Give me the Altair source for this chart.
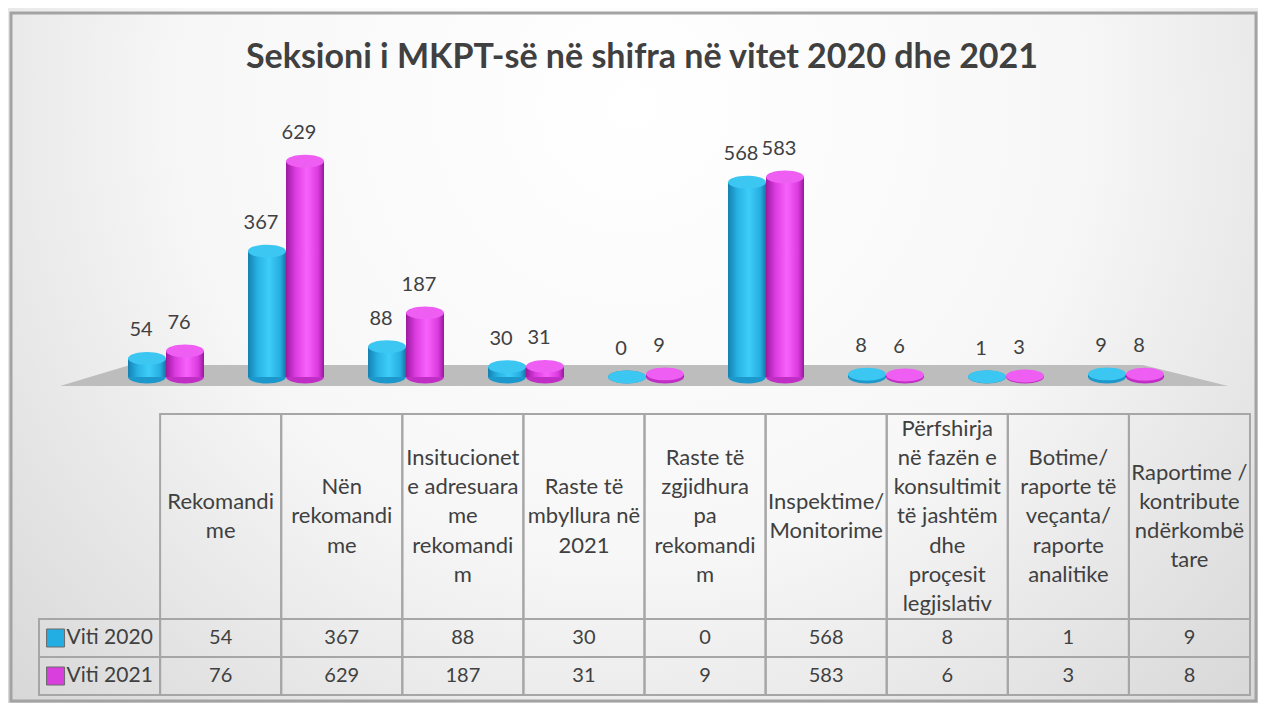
import altair as alt
import pandas as pd

# ---------------- data ----------------
title_text = "Seksioni i MKPT-së në shifra në vitet 2020 dhe 2021"
categories = [
    "Rekomandime",
    "Nën rekomandime",
    "Insitucionet e adresuara me rekomandim",
    "Raste të mbyllura në 2021",
    "Raste të zgjidhura pa rekomandim",
    "Inspektime/ Monitorime",
    "Përfshirja në fazën e konsultimit të jashtëm dhe proçesit legjislativ",
    "Botime/ raporte të veçanta/ raporte analitike",
    "Raportime / kontribute ndërkombëtare",
]
header_lines = [
    ["Rekomandi", "me"],
    ["Nën", "rekomandi", "me"],
    ["Insitucionet", "e adresuara", "me", "rekomandi", "m"],
    ["Raste të", "mbyllura në", "2021"],
    ["Raste të", "zgjidhura", "pa", "rekomandi", "m"],
    ["Inspektime/", "Monitorime"],
    ["Përfshirja", "në fazën e", "konsultimit", "të jashtëm", "dhe", "proçesit", "legjislativ"],
    ["Botime/", "raporte të", "veçanta/", "raporte", "analitike"],
    ["Raportime /", "kontribute", "ndërkombë", "tare"],
]
series = ["Viti 2020", "Viti 2021"]
values_2020 = [54, 367, 88, 30, 0, 568, 8, 1, 9]
values_2021 = [76, 629, 187, 31, 9, 583, 6, 3, 8]

# ---------------- tables built from the arrays ----------------
rows = []
for s, vals in zip(series, [values_2020, values_2021]):
    for c, v in zip(categories, vals):
        rows.append({"category": c, "series": s, "value": v})
df = pd.DataFrame(rows)

df_hdr = pd.DataFrame({"category": categories,
                       "label": ["\n".join(l) for l in header_lines],
                       "n": [len(l) for l in header_lines]})
ROWKEY = "_row"
df_rowhdr = pd.DataFrame({"category": [ROWKEY] * len(series), "series": series})
df_cells = pd.concat([df[["category", "series"]], df_rowhdr], ignore_index=True)
df_title = pd.DataFrame({"t": [title_text]})
one = pd.DataFrame({"k": [0]})

# ---------------- layout / style ----------------
W, H = 1250, 695
FONT = "Lato"
TXT = "#404040"
GRID = "#a6a6a6"

blue_grad = {"gradient": "linear", "x1": 0, "x2": 1, "y1": 0, "y2": 0,
             "stops": [{"offset": 0, "color": "#1580b0"},
                       {"offset": 0.25, "color": "#27b2e4"},
                       {"offset": 0.55, "color": "#3ecdf8"},
                       {"offset": 0.85, "color": "#26ade0"},
                       {"offset": 1, "color": "#1474a2"}]}
pink_grad = {"gradient": "linear", "x1": 0, "x2": 1, "y1": 0, "y2": 0,
             "stops": [{"offset": 0, "color": "#9c1aa0"},
                       {"offset": 0.25, "color": "#dc3ce0"},
                       {"offset": 0.55, "color": "#f862fb"},
                       {"offset": 0.85, "color": "#da3ade"},
                       {"offset": 1, "color": "#951a99"}]}
styles = {
    "Viti 2020": (blue_grad, "#3cc6f2", "#1c98cc", -19),
    "Viti 2021": (pink_grad, "#ef5ef2", "#c12ec5", 19),
}
bg_grad = {"gradient": "radial", "x1": 0.5, "y1": 0.3, "r1": 0.0,
           "x2": 0.5, "y2": 0.3, "r2": 0.8,
           "stops": [{"offset": 0, "color": "#ffffff"},
                     {"offset": 0.45, "color": "#f7f7f7"},
                     {"offset": 1, "color": "#cdcdcd"}]}

ELLIPSE = "M -1 0 A 1 0.34 0 1 0 1 0 A 1 0.34 0 1 0 -1 0 Z"
BAR_W = 38

x_bar = alt.Scale(domain=categories, range=[98, 1178], paddingInner=0.37, paddingOuter=0.185)
y_bar = alt.Scale(domain=[0, 700], range=[369, 369 - 700 * 0.343])

tx = alt.Scale(domain=[ROWKEY] + categories, range=[31, 1242], paddingInner=0, paddingOuter=0)
ty = alt.Scale(domain=series, range=[611, 687], paddingInner=0, paddingOuter=0)

# ---------------- decoration ----------------
background = alt.Chart(one).mark_rect(fill=bg_grad, strokeWidth=0).encode(
    x=alt.value(0), x2=alt.value(W), y=alt.value(0), y2=alt.value(H))
frame = alt.Chart(one).mark_rect(fill="transparent", stroke="#a3a3a3", strokeWidth=3).encode(
    x=alt.value(3), x2=alt.value(W - 2), y=alt.value(5), y2=alt.value(H - 2))

floor_df = pd.DataFrame({"fx": [52, 122, 1135, 1220],
                         "fy": [378, 357, 357, 378],
                         "fy2": [378, 378, 378, 378]})
floor = alt.Chart(floor_df).mark_area(color="#bdbdbd").encode(
    x=alt.X("fx:Q", scale=None, axis=None),
    y=alt.Y("fy:Q", scale=None, axis=None),
    y2="fy2:Q")

title = alt.Chart(df_title).mark_text(
    font=FONT, fontSize=34, fontWeight="bold", color=TXT, baseline="alphabetic", align="center"
).encode(text="t:N", x=alt.value(634), y=alt.value(60))

# ---------------- bars ----------------
bar_layers = []
X = alt.X("category:N", scale=x_bar, axis=None)
for s in series:
    grad, cap, edge, off = styles[s]
    base = alt.Chart(df).transform_filter(alt.datum.series == s).transform_calculate(zero="0")
    bottom = base.mark_point(shape=ELLIPSE, filled=True, size=BAR_W * BAR_W, color=edge,
                             opacity=1, xOffset=off).encode(
        x=X, y=alt.Y("zero:Q", scale=y_bar, axis=None))
    body = base.mark_bar(color=grad, width=BAR_W, xOffset=off).encode(
        x=X, y=alt.Y("value:Q", scale=y_bar, axis=None), y2="zero:Q")
    top = base.mark_point(shape=ELLIPSE, filled=True, size=BAR_W * BAR_W, color=cap,
                          opacity=1, xOffset=off).encode(
        x=X, y=alt.Y("value:Q", scale=y_bar, axis=None))
    label = base.mark_text(font=FONT, fontSize=20, color=TXT, xOffset=off - 6, dy=-22,
                           baseline="alphabetic").encode(
        x=X, y=alt.Y("value:Q", scale=y_bar, axis=None), text="value:Q")
    bar_layers += [bottom, body, top, label]

# ---------------- data table ----------------
TX = alt.X("category:N", scale=tx, axis=None)
TY = alt.Y("series:N", scale=ty, axis=None)

hdr_cells = alt.Chart(df_hdr).mark_rect(fill="transparent", stroke=GRID, strokeWidth=2).encode(
    x=TX, y=alt.value(406), y2=alt.value(611))
hdr_text = alt.Chart(df_hdr).transform_calculate(
    ty="508.5 - (datum.n - 1) * 14.65"
).mark_text(
    font=FONT, fontSize=22, color=TXT, lineBreak="\n", lineHeight=29.3, baseline="middle"
).encode(x=TX, y=alt.Y("ty:Q", scale=None, axis=None), text="label:N")

cells = alt.Chart(df_cells).mark_rect(fill="transparent", stroke=GRID, strokeWidth=2).encode(
    x=TX, y=TY)
val_text = alt.Chart(df).mark_text(font=FONT, fontSize=20, color=TXT, baseline="middle").encode(
    x=TX, y=TY, text="value:Q")
row_text = alt.Chart(df_rowhdr).mark_text(
    font=FONT, fontSize=21, color=TXT, baseline="middle", align="left", dx=-33
).encode(x=TX, y=TY, text="series:N")
row_keys = alt.Chart(df_rowhdr).mark_square(size=324, opacity=1, xOffset=-44, strokeWidth=1, stroke="#6a6a6a").encode(
    x=TX, y=TY,
    color=alt.Color("series:N", scale=alt.Scale(domain=series, range=["#22aee2", "#d93fdc"]), legend=None))

chart = alt.layer(
    background, frame, floor, title,
    *bar_layers,
    hdr_cells, hdr_text, cells, val_text, row_text, row_keys,
).resolve_scale(
    x="independent", y="independent", color="independent"
).properties(
    width=W, height=H, padding=0,
    autosize=alt.AutoSizeParams(type="none"),
).configure_view(stroke=None)

chart.save("out.html", embed_options={"renderer": "svg", "actions": False})
